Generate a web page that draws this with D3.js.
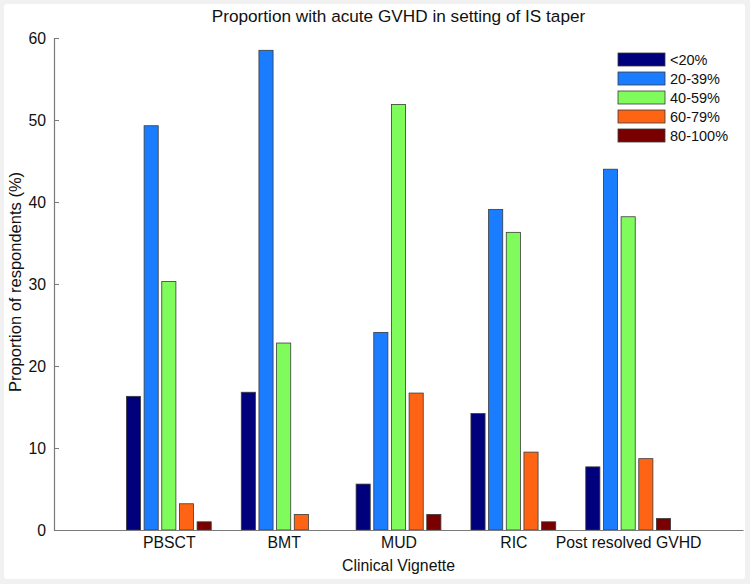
<!DOCTYPE html>
<html>
<head>
<meta charset="utf-8">
<script src="https://cdn.jsdelivr.net/npm/d3@7"></script>
<style>
  html, body { margin: 0; padding: 0; background: #f1f1f1; }
  svg { display: block; font-family: "Liberation Sans", Arial, Helvetica, sans-serif; }
</style>
</head>
<body>
<svg id="chart" width="750" height="584"></svg>
<script>
const categories = ["PBSCT", "BMT", "MUD", "RIC", "Post resolved GVHD"];
const seriesNames = ["<20%", "20-39%", "40-59%", "60-79%", "80-100%"];
const seriesColors = ["#00007c", "#1a7dff", "#80fb5c", "#ff6414", "#7a0000"];
const under20 = [16.3, 16.8, 5.6, 14.2, 7.7];
const from20to39 = [49.3, 58.5, 24.1, 39.1, 44.0];
const from40to59 = [30.3, 22.8, 51.9, 36.3, 38.2];
const from60to79 = [3.2, 1.9, 16.7, 9.5, 8.7];
const from80to100 = [1.0, 0.0, 1.9, 1.0, 1.4];
const yTicks = [0, 10, 20, 30, 40, 50, 60];

const series = [under20, from20to39, from40to59, from60to79, from80to100];

const svg = d3.select("#chart");
// white panel inside the light gray frame
svg.append("rect").attr("x", 4).attr("y", 4).attr("width", 741).attr("height", 575)
  .attr("rx", 3).attr("fill", "#ffffff");

const x = d3.scaleLinear().domain([0, 6]).range([54, 743]);
const y = d3.scaleLinear().domain([0, 60]).range([530, 38]);

const n = series.length;
const groupWidth = Math.min(0.8, n / (n + 1.5));
const pitch = groupWidth / n;
const barW = pitch * 0.8;

const g = svg.append("g");
series.forEach((vals, si) => {
  g.selectAll(null).data(vals).enter().append("rect")
    .attr("x", (d, ci) => x(ci + 1 + (si - (n - 1) / 2) * pitch - barW / 2))
    .attr("width", (d) => x(barW) - x(0))
    .attr("y", d => y(d))
    .attr("height", d => y(0) - y(d))
    .attr("fill", seriesColors[si])
    .attr("stroke", "#3a3a3a")
    .attr("stroke-width", 0.8)
    .attr("display", d => d > 0 ? null : "none");
});

// Y axis
const yAxis = d3.axisLeft(y).tickValues(yTicks).tickSize(-5).tickPadding(8);
const ya = svg.append("g").attr("transform", `translate(${x(0)},0)`).call(yAxis);
ya.select(".domain").attr("stroke", "#7a7a7a").attr("stroke-width", 1.2);
ya.selectAll(".tick line").attr("stroke", "#7a7a7a");
ya.selectAll(".tick text").attr("font-size", 15.8).attr("fill", "#111")
  .attr("font-family", "Liberation Sans, Arial, sans-serif");

// X axis
const xAxis = d3.axisBottom(x).tickValues([1, 2, 3, 4, 5])
  .tickFormat((d) => categories[d - 1]).tickSize(0).tickPadding(7);
const xa = svg.append("g").attr("transform", `translate(0,${y(0)})`).call(xAxis);
xa.select(".domain").attr("stroke", "#7a7a7a").attr("stroke-width", 1.2);
xa.selectAll(".tick text").attr("font-size", 15.8).attr("fill", "#111")
  .attr("font-family", "Liberation Sans, Arial, sans-serif");

// Title and axis labels
svg.append("text").attr("x", (x(0) + x(6)) / 2).attr("y", 21.5).attr("text-anchor", "middle")
  .attr("font-size", 17.2).attr("fill", "#111").text("Proportion with acute GVHD in setting of IS taper");
svg.append("text").attr("x", (x(0) + x(6)) / 2).attr("y", 571).attr("text-anchor", "middle")
  .attr("font-size", 15.8).attr("fill", "#111").text("Clinical Vignette");
svg.append("text").attr("transform", `translate(21,${(y(0) + y(60)) / 2 - 2}) rotate(-90)`)
  .attr("text-anchor", "middle").attr("font-size", 16.5).attr("fill", "#111")
  .text("Proportion of respondents (%)");

// Legend
const leg = svg.append("g").attr("transform", "translate(618,53)");
seriesNames.forEach((name, i) => {
  leg.append("rect").attr("x", 0).attr("y", i * 19).attr("width", 47).attr("height", 13)
    .attr("fill", seriesColors[i]).attr("stroke", "#3a3a3a").attr("stroke-width", 0.8);
  leg.append("text").attr("x", 52).attr("y", i * 19 + 11.5).attr("font-size", 14.5)
    .attr("fill", "#111").text(name);
});
</script>
</body>
</html>
